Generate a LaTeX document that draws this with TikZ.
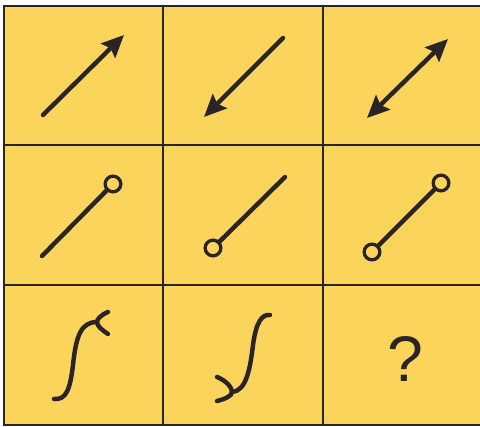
\documentclass[tikz,border=0pt]{standalone}
\usepackage{fontspec}
\newfontfamily\qfont{Liberation Sans}
\usetikzlibrary{arrows.meta}
\definecolor{cellyellow}{HTML}{FAD45B}
\definecolor{inkdark}{HTML}{2B2426}

\begin{document}
\begin{tikzpicture}[x=0.03cm, y=-0.03cm,
    grid/.style={draw=inkdark, line width=2.3pt},
    ink/.style={draw=inkdark, line width=3.8pt, line cap=round},
    tipped/.style={-{Stealth[length=19pt, width=17pt, inset=3pt]}},
    ring/.style={circle, draw=inkdark, line width=2.8pt, fill=cellyellow,
      minimum size=0.47cm, inner sep=0pt}]
  \useasboundingbox (0,0) rectangle (480,427);
  \fill[white] (0,0) rectangle (480,427);
  \draw[grid, fill=cellyellow] (4,6) rectangle (490,425);
  \foreach \gx in {163,323} \draw[grid] (\gx,6) -- (\gx,425);
  \foreach \gy in {145,285} \draw[grid] (4,\gy) -- (490,\gy);

  % first row: arrows
  \coordinate (a1s) at (43,115);
  \coordinate (a1e) at (124,35);
  \coordinate (a2s) at (283,38);
  \coordinate (a2e) at (204,117);
  \coordinate (a3s) at (367,118);
  \coordinate (a3e) at (448,39);
  \draw[ink, tipped] (a1s) -- (a1e);
  \draw[ink, tipped] (a2s) -- (a2e);
  \draw[ink, {Stealth[length=19pt, width=17pt, inset=3pt]}-{Stealth[length=19pt, width=17pt, inset=3pt]}] (a3s) -- (a3e);

  % second row: rings
  \coordinate (b1s) at (42,256);
  \node[ring] (b1r) at (113,184) {};
  \node[ring] (b2r) at (213,248) {};
  \coordinate (b2e) at (285,177);
  \node[ring] (b3a) at (372,252) {};
  \node[ring] (b3b) at (441,183) {};
  \draw[ink] (b1s) -- (b1r);
  \draw[ink] (b2r) -- (b2e);
  \draw[ink] (b3a) -- (b3b);

  % third row
  \draw[ink] (54,399) .. controls (66,400) and (70,390) .. (73,365)
    .. controls (76,336) and (81,322) .. (97,322);
  \draw[ink] (108,312) .. controls (101,315) and (97,319) .. (97,322)
    .. controls (97,326) and (102,330) .. (108,334);
  \draw[ink] (270,315) .. controls (262,314) and (256,322) .. (253,345)
    .. controls (250,370) and (246,391) .. (232,392);
  \draw[ink] (217,377) .. controls (227,381) and (232,388) .. (232,392)
    .. controls (232,396) and (225,399) .. (217,401);
  \node[text=inkdark, font=\qfont\fontsize{55}{55}\selectfont] (q) at (405,359) {?};
\end{tikzpicture}
\end{document}
